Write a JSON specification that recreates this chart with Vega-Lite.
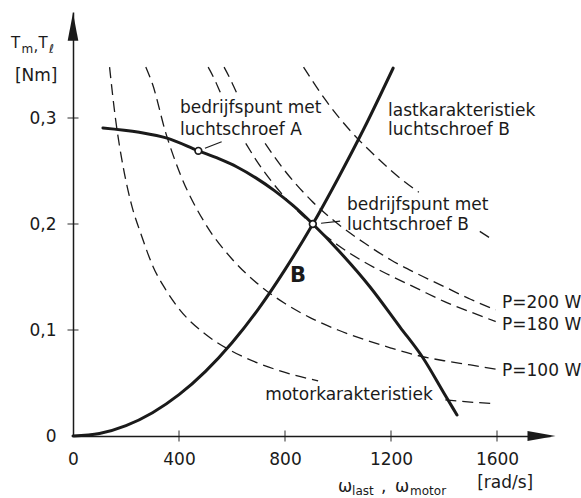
{
  "$schema": "https://vega.github.io/schema/vega-lite/v6.json",
  "width": 477,
  "height": 424,
  "autosize": {"type": "none"},
  "padding": {"left": 73, "top": 12, "right": 31, "bottom": 62},
  "background": "white",
  "config": {
    "font": "DejaVu Sans",
    "view": {"stroke": null},
    "axis": {"grid": false, "ticks": false, "title": null, "labelFontSize": 17, "labelColor": "#1a1a1a", "domainColor": "#1a1a1a", "domainWidth": 1.5, "labelFont": "DejaVu Sans"}
  },
  "datasets": {
    "dashed": [
      {"c": "P50a", "w": 138, "t": 0.348}, {"c": "P50a", "w": 160, "t": 0.3}, {"c": "P50a", "w": 190, "t": 0.253},
      {"c": "P50a", "w": 220, "t": 0.219}, {"c": "P50a", "w": 260, "t": 0.188}, {"c": "P50a", "w": 300, "t": 0.161},
      {"c": "P50a", "w": 350, "t": 0.138}, {"c": "P50a", "w": 400, "t": 0.12}, {"c": "P50a", "w": 500, "t": 0.096},
      {"c": "P50a", "w": 600, "t": 0.08}, {"c": "P50a", "w": 700, "t": 0.0686}, {"c": "P50a", "w": 800, "t": 0.06},
      {"c": "P50a", "w": 925, "t": 0.052},
      {"c": "P50b", "w": 1405, "t": 0.034}, {"c": "P50b", "w": 1500, "t": 0.032}, {"c": "P50b", "w": 1590, "t": 0.0305},
      {"c": "P100", "w": 275, "t": 0.348}, {"c": "P100", "w": 300, "t": 0.332}, {"c": "P100", "w": 350, "t": 0.286},
      {"c": "P100", "w": 400, "t": 0.25}, {"c": "P100", "w": 500, "t": 0.2}, {"c": "P100", "w": 600, "t": 0.167},
      {"c": "P100", "w": 700, "t": 0.143}, {"c": "P100", "w": 800, "t": 0.125}, {"c": "P100", "w": 900, "t": 0.111},
      {"c": "P100", "w": 1000, "t": 0.1}, {"c": "P100", "w": 1100, "t": 0.091}, {"c": "P100", "w": 1200, "t": 0.083},
      {"c": "P100", "w": 1300, "t": 0.076}, {"c": "P100", "w": 1400, "t": 0.071}, {"c": "P100", "w": 1500, "t": 0.067},
      {"c": "P100", "w": 1595, "t": 0.063},
      {"c": "P180a", "w": 510, "t": 0.348}, {"c": "P180a", "w": 535, "t": 0.336}, {"c": "P180a", "w": 556, "t": 0.324},
      {"c": "P180b", "w": 652, "t": 0.276}, {"c": "P180b", "w": 700, "t": 0.257}, {"c": "P180b", "w": 800, "t": 0.225},
      {"c": "P180b", "w": 905, "t": 0.199}, {"c": "P180b", "w": 1000, "t": 0.18}, {"c": "P180b", "w": 1100, "t": 0.164},
      {"c": "P180b", "w": 1200, "t": 0.151}, {"c": "P180b", "w": 1300, "t": 0.139}, {"c": "P180b", "w": 1400, "t": 0.127},
      {"c": "P180b", "w": 1500, "t": 0.117}, {"c": "P180b", "w": 1595, "t": 0.108},
      {"c": "P200a", "w": 570, "t": 0.348}, {"c": "P200a", "w": 595, "t": 0.336}, {"c": "P200a", "w": 617, "t": 0.324},
      {"c": "P200b", "w": 725, "t": 0.276}, {"c": "P200b", "w": 800, "t": 0.25}, {"c": "P200b", "w": 900, "t": 0.222},
      {"c": "P200b", "w": 1000, "t": 0.2}, {"c": "P200b", "w": 1100, "t": 0.182}, {"c": "P200b", "w": 1200, "t": 0.166},
      {"c": "P200b", "w": 1300, "t": 0.153}, {"c": "P200b", "w": 1400, "t": 0.141}, {"c": "P200b", "w": 1500, "t": 0.129},
      {"c": "P200b", "w": 1595, "t": 0.119},
      {"c": "P300a", "w": 870, "t": 0.348}, {"c": "P300a", "w": 950, "t": 0.318}, {"c": "P300a", "w": 1050, "t": 0.287},
      {"c": "P300a", "w": 1150, "t": 0.262}, {"c": "P300a", "w": 1250, "t": 0.24}, {"c": "P300a", "w": 1305, "t": 0.23},
      {"c": "P300b", "w": 1535, "t": 0.193}, {"c": "P300b", "w": 1585, "t": 0.185}
    ],
    "solid": [
      {"c": "motor", "w": 113, "t": 0.2906}, {"c": "motor", "w": 250, "t": 0.2865}, {"c": "motor", "w": 355, "t": 0.281},
      {"c": "motor", "w": 473, "t": 0.269}, {"c": "motor", "w": 550, "t": 0.2616}, {"c": "motor", "w": 619, "t": 0.2538},
      {"c": "motor", "w": 690, "t": 0.2435}, {"c": "motor", "w": 760, "t": 0.2315}, {"c": "motor", "w": 830, "t": 0.2175},
      {"c": "motor", "w": 905, "t": 0.2}, {"c": "motor", "w": 1000, "t": 0.1755}, {"c": "motor", "w": 1121, "t": 0.1406},
      {"c": "motor", "w": 1234, "t": 0.1028}, {"c": "motor", "w": 1321, "t": 0.0736}, {"c": "motor", "w": 1400, "t": 0.0404},
      {"c": "motor", "w": 1449, "t": 0.0198},
      {"c": "load", "w": 0, "t": 0}, {"c": "load", "w": 100, "t": 0.0024}, {"c": "load", "w": 200, "t": 0.0098},
      {"c": "load", "w": 300, "t": 0.022}, {"c": "load", "w": 400, "t": 0.039}, {"c": "load", "w": 500, "t": 0.061},
      {"c": "load", "w": 600, "t": 0.088}, {"c": "load", "w": 700, "t": 0.12}, {"c": "load", "w": 800, "t": 0.157},
      {"c": "load", "w": 905, "t": 0.2}, {"c": "load", "w": 1000, "t": 0.243}, {"c": "load", "w": 1100, "t": 0.291},
      {"c": "load", "w": 1208, "t": 0.347}
    ],
    "points": [{"w": 473, "t": 0.269}, {"w": 905, "t": 0.2}],
    "leaders": [
      {"w": 498, "t": 0.2714, "w2": 561, "t2": 0.2776},
      {"w": 936, "t": 0.2007, "w2": 1008, "t2": 0.2028}
    ],
    "xticks": [{"w": 400}, {"w": 800}, {"w": 1200}, {"w": 1600}],
    "yticks": [{"t": 0.1}, {"t": 0.2}, {"t": 0.3}],
    "ann": [
      {"kind": "label", "w": 404, "t": 0.3094, "txt": "bedrijfspunt met"},
      {"kind": "label", "w": 404, "t": 0.2887, "txt": "luchtschroef A"},
      {"kind": "label", "w": 1189, "t": 0.3066, "txt": "lastkarakteristiek"},
      {"kind": "label", "w": 1189, "t": 0.2887, "txt": "luchtschroef B"},
      {"kind": "label", "w": 1034, "t": 0.2179, "txt": "bedrijfspunt met"},
      {"kind": "label", "w": 1034, "t": 0.1991, "txt": "luchtschroef B"},
      {"kind": "label", "w": 725, "t": 0.0387, "txt": "motorkarakteristiek"},
      {"kind": "label", "w": 1619, "t": 0.1255, "txt": "P=200 W"},
      {"kind": "label", "w": 1619, "t": 0.1047, "txt": "P=180 W"},
      {"kind": "label", "w": 1619, "t": 0.0613, "txt": "P=100 W"},
      {"kind": "label", "w": -219, "t": 0.3396, "txt": "[Nm]"},
      {"kind": "label", "w": 1000, "t": -0.0481, "txt": "ω"},
      {"kind": "label", "w": 1162, "t": -0.0481, "txt": ","},
      {"kind": "label", "w": 1215, "t": -0.0481, "txt": "ω"},
      {"kind": "label", "w": 1525, "t": -0.0445, "txt": "[rad/s]"},
      {"kind": "ytitle", "w": -234, "t": 0.3708, "txt": "T"},
      {"kind": "ytitle", "w": -149, "t": 0.368, "txt": ","},
      {"kind": "ytitle", "w": -130, "t": 0.3708, "txt": "T"},
      {"kind": "sub", "w": -194, "t": 0.3655, "txt": "m"},
      {"kind": "sub", "w": -91, "t": 0.3655, "txt": "ℓ"},
      {"kind": "sub", "w": 1053, "t": -0.0519, "txt": "last"},
      {"kind": "sub", "w": 1272, "t": -0.0519, "txt": "motor"},
      {"kind": "bold", "w": 849, "t": 0.151, "txt": "B"}
    ]
  },
  "layer": [
    {
      "data": {"name": "dashed"},
      "mark": {"type": "line", "strokeDash": [11, 6], "strokeWidth": 1.3, "color": "#1a1a1a", "interpolate": "monotone"},
      "encoding": {
        "x": {"field": "w", "type": "quantitative", "scale": {"domain": [0, 1800], "nice": false, "zero": false},
              "axis": {"values": [0, 400, 800, 1200, 1600], "format": "d", "labelPadding": 15, "labelFlush": false, "labelOverlap": false}},
        "y": {"field": "t", "type": "quantitative", "scale": {"domain": [0, 0.4], "nice": false, "zero": false},
              "axis": {"values": [0, 0.1, 0.2, 0.3], "labelPadding": 17, "labelOverlap": false,
                       "labelExpr": "datum.value == 0 ? '0' : replace(format(datum.value, '.1f'), '.', ',')"}},
        "detail": {"field": "c"}
      }
    },
    {
      "data": {"name": "solid"},
      "mark": {"type": "line", "strokeWidth": 3, "color": "#1a1a1a", "strokeCap": "round", "interpolate": "monotone"},
      "encoding": {
        "x": {"field": "w", "type": "quantitative"},
        "y": {"field": "t", "type": "quantitative"},
        "detail": {"field": "c"}
      }
    },
    {
      "data": {"name": "leaders"},
      "mark": {"type": "rule", "strokeWidth": 1.2, "color": "#1a1a1a"},
      "encoding": {
        "x": {"field": "w", "type": "quantitative"},
        "y": {"field": "t", "type": "quantitative"},
        "x2": {"field": "w2"},
        "y2": {"field": "t2"}
      }
    },
    {
      "data": {"name": "points"},
      "mark": {"type": "point", "filled": false, "fill": "white", "fillOpacity": 1, "stroke": "#1a1a1a", "strokeWidth": 1.7, "size": 45, "opacity": 1},
      "encoding": {
        "x": {"field": "w", "type": "quantitative"},
        "y": {"field": "t", "type": "quantitative"}
      }
    },
    {
      "data": {"name": "xticks"},
      "mark": {"type": "tick", "orient": "vertical", "size": 11, "thickness": 1.3, "color": "#1a1a1a"},
      "encoding": {
        "x": {"field": "w", "type": "quantitative"},
        "y": {"datum": 0, "type": "quantitative"}
      }
    },
    {
      "data": {"name": "yticks"},
      "mark": {"type": "tick", "orient": "horizontal", "size": 11, "thickness": 1.3, "color": "#1a1a1a"},
      "encoding": {
        "y": {"field": "t", "type": "quantitative"},
        "x": {"datum": 0, "type": "quantitative"}
      }
    },
    {
      "data": {"values": [{"w": 1768, "t": 0}]},
      "mark": {"type": "point", "filled": true, "color": "#1a1a1a", "opacity": 1, "size": 784, "shape": "M 1 0 L -1 -0.36 L -1 0.36 Z"},
      "encoding": {
        "x": {"field": "w", "type": "quantitative"},
        "y": {"field": "t", "type": "quantitative"}
      }
    },
    {
      "data": {"values": [{"w": 0, "t": 0.386}]},
      "mark": {"type": "point", "filled": true, "color": "#1a1a1a", "opacity": 1, "size": 784, "shape": "M 0 -1 L -0.38 1 L 0.38 1 Z"},
      "encoding": {
        "x": {"field": "w", "type": "quantitative"},
        "y": {"field": "t", "type": "quantitative"}
      }
    },
    {
      "data": {"name": "ann"},
      "transform": [{"filter": "datum.kind == 'label'"}],
      "mark": {"type": "text", "align": "left", "baseline": "middle", "fontSize": 17, "color": "#1a1a1a"},
      "encoding": {
        "x": {"field": "w", "type": "quantitative"},
        "y": {"field": "t", "type": "quantitative"},
        "text": {"field": "txt"}
      }
    },
    {
      "data": {"name": "ann"},
      "transform": [{"filter": "datum.kind == 'ytitle'"}],
      "mark": {"type": "text", "align": "left", "baseline": "middle", "fontSize": 15, "color": "#1a1a1a"},
      "encoding": {
        "x": {"field": "w", "type": "quantitative"},
        "y": {"field": "t", "type": "quantitative"},
        "text": {"field": "txt"}
      }
    },
    {
      "data": {"name": "ann"},
      "transform": [{"filter": "datum.kind == 'sub'"}],
      "mark": {"type": "text", "align": "left", "baseline": "middle", "fontSize": 12, "color": "#1a1a1a"},
      "encoding": {
        "x": {"field": "w", "type": "quantitative"},
        "y": {"field": "t", "type": "quantitative"},
        "text": {"field": "txt"}
      }
    },
    {
      "data": {"name": "ann"},
      "transform": [{"filter": "datum.kind == 'bold'"}],
      "mark": {"type": "text", "align": "center", "baseline": "middle", "fontSize": 21, "fontWeight": "bold", "color": "#1a1a1a"},
      "encoding": {
        "x": {"field": "w", "type": "quantitative"},
        "y": {"field": "t", "type": "quantitative"},
        "text": {"field": "txt"}
      }
    }
  ]
}
